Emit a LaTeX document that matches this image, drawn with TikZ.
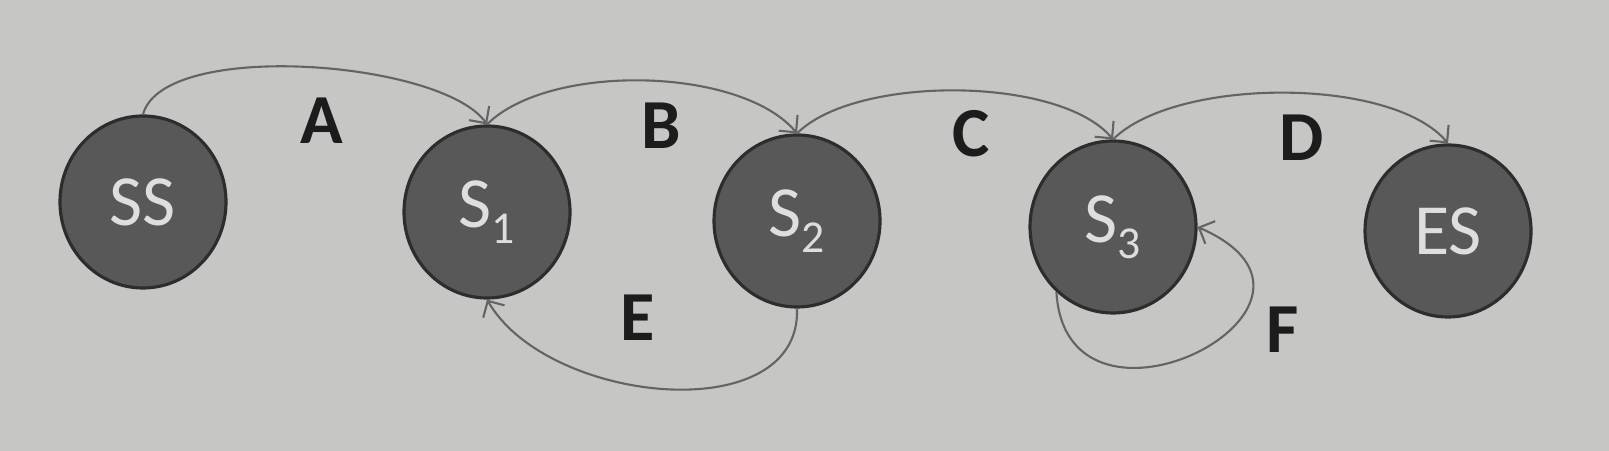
\documentclass[tikz,border=0pt]{standalone}
\usepackage{fontspec}
\setmainfont{Carlito}
\usetikzlibrary{shapes.geometric}
\usetikzlibrary{arrows.meta}
\definecolor{paper}{RGB}{198,198,196}
\definecolor{statefill}{RGB}{88,88,88}
\definecolor{stateline}{RGB}{45,45,45}
\definecolor{arcline}{RGB}{100,100,100}
\definecolor{labeltext}{RGB}{28,28,28}
\definecolor{statetext}{RGB}{222,222,222}
\newcommand{\stname}[1]{S\raisebox{-4.5pt}{\fontsize{13}{13}\selectfont #1}}

\begin{document}
\begin{tikzpicture}[
  state/.style={ellipse, draw=stateline, line width=0.9pt, fill=statefill,
    minimum width=1.66cm, minimum height=1.72cm, inner sep=0pt,
    text=statetext, font=\fontsize{20.5}{24}\selectfont},
  trans/.style={draw=arcline, line width=0.6pt,
    -{Straight Barb[length=3.5pt,width=7pt]}},
  lbl/.style={text=labeltext, font=\fontsize{20}{24}\selectfont\bfseries}
]
\fill[paper] (0,0) rectangle (16.09,4.51);
\useasboundingbox (0,0) rectangle (16.09,4.51);

\node[state] (SS) at (1.43,2.49) {SS};
\node[state] (S1) at (4.87,2.39) {\stname{1}};
\node[state] (S2) at (7.97,2.30) {\stname{2}};
\node[state] (S3) at (11.13,2.24) {\stname{3}};
\node[state] (ES) at (14.48,2.20) {ES};

\draw[trans] (SS.north) to[out=75,in=125,looseness=0.58] (S1.north);
\draw[trans] (S1.north) to[out=45,in=130,looseness=0.72] (S2.north);
\draw[trans] (S2.north) to[out=45,in=130,looseness=0.67] (S3.north);
\draw[trans] (S3.north) to[out=45,in=130,looseness=0.67] (ES.north);
\draw[trans] (S2.south) to[out=-88,in=-60,looseness=1] (S1.south);
\draw[trans] (S3.-131) .. controls +(0.1,-1.7) and +(1.77,-0.77) .. (S3.east);

\node[lbl] (lA) at (3.22,3.30) {A};
\node[lbl] (lB) at (6.61,3.25) {B};
\node[lbl] (lC) at (9.71,3.17) {C};
\node[lbl] (lD) at (13.02,3.13) {D};
\node[lbl] (lE) at (6.38,1.33) {E};
\node[lbl] (lF) at (12.83,1.21) {F};
\end{tikzpicture}
\end{document}
